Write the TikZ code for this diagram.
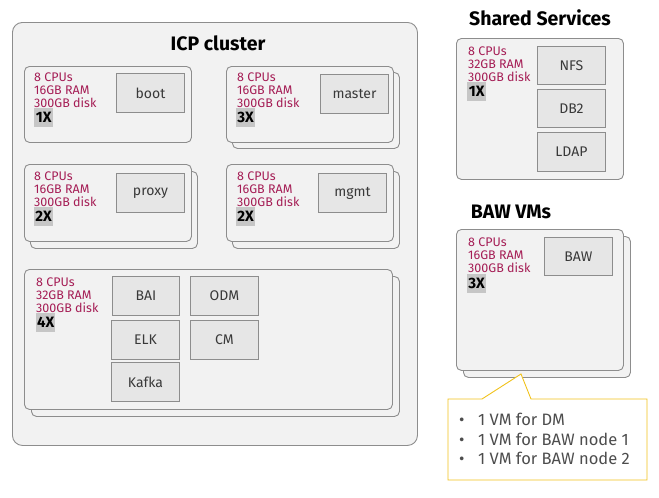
\documentclass[tikz,border=0pt]{standalone}
\usepackage{fontspec}
\setmainfont{Fira Sans}
\usetikzlibrary{calc}
\definecolor{bgfill}{HTML}{F2F2F2}
\definecolor{boxline}{HTML}{8D8D8D}
\definecolor{svcfill}{HTML}{E6E6E6}
\definecolor{spectext}{HTML}{A51D55}
\definecolor{badgefill}{HTML}{C6C6C6}
\definecolor{calloutline}{HTML}{F1C21B}
\definecolor{svctext}{HTML}{393939}
\definecolor{notetext}{HTML}{4D4D4D}
\begin{document}
\begin{tikzpicture}[x=1pt,y=-1pt,
  cluster/.style={draw=boxline, fill=bgfill, rounded corners=10pt, line width=0.9pt, anchor=north west, inner sep=0},
  vmbox/.style={draw=boxline, fill=bgfill, rounded corners=5pt, line width=0.9pt, anchor=north west, inner sep=0},
  svc/.style={draw=boxline, fill=svcfill, line width=0.9pt, anchor=north west, inner sep=0, minimum width=68pt, minimum height=39pt, font=\fontsize{14}{16}\selectfont, text=svctext},
  spec/.style={anchor=north west, inner sep=0, align=left, text=spectext, font=\fontsize{12.5}{12.8}\selectfont},
  badge/.style={anchor=north west, fill=badgefill, inner sep=0, minimum width=19pt, minimum height=19pt, font=\bfseries\fontsize{15}{16}\selectfont},
  title/.style={font=\bfseries\fontsize{19.5}{22}\selectfont},
  notebox/.style={draw=calloutline, fill=white, line width=0.9pt, line join=miter},
  note/.style={anchor=north west, inner sep=0, align=left, text=notetext, font=\fontsize{16.5}{19.5}\selectfont}
]
\useasboundingbox (0,0) rectangle (659,498);

% ICP cluster
\node[cluster, minimum width=405pt, minimum height=423pt] (icp) at (12,22) {};
\node[title] (icptitle) at (218,43) {ICP cluster};

% boot
\node[vmbox, minimum width=167pt, minimum height=76pt] (bootvm) at (24,66) {};
\node[svc] (boot) at (116,73) {boot};
\node[spec] (bootspec) at (34,72.5) {8 CPUs\\16GB RAM\\300GB disk};
\node[badge] (bootn) at (34,108) {1X};

% master
\node[vmbox, minimum width=167pt, minimum height=76pt] (mastervmb) at (232,72) {};
\node[vmbox, minimum width=167pt, minimum height=76pt] (mastervm) at (226,66) {};
\node[svc] (master) at (320,74) {master};
\node[spec] (masterspec) at (237,72.5) {8 CPUs\\16GB RAM\\300GB disk};
\node[badge] (mastern) at (236,108) {3X};

% proxy
\node[vmbox, minimum width=167pt, minimum height=77pt] (proxyvmb) at (30,171) {};
\node[vmbox, minimum width=167pt, minimum height=77pt] (proxyvm) at (24,164) {};
\node[svc] (proxy) at (116,173) {proxy};
\node[spec] (proxyspec) at (34,171.5) {8 CPUs\\16GB RAM\\300GB disk};
\node[badge] (proxyn) at (34,207) {2X};

% mgmt
\node[vmbox, minimum width=167pt, minimum height=77pt] (mgmtvmb) at (232,171) {};
\node[vmbox, minimum width=167pt, minimum height=77pt] (mgmtvm) at (226,164) {};
\node[svc] (mgmt) at (318,173) {mgmt};
\node[spec] (mgmtspec) at (237,171.5) {8 CPUs\\16GB RAM\\300GB disk};
\node[badge] (mgmtn) at (236,207) {2X};

% worker
\node[vmbox, minimum width=368pt, minimum height=140pt] (workvmb) at (31,276) {};
\node[vmbox, minimum width=368pt, minimum height=140pt] (workvm) at (24,269) {};
\node[spec] (workspec) at (36,278) {8 CPUs\\32GB RAM\\300GB disk};
\node[badge] (workn) at (36,313) {4X};
\node[svc, minimum width=67pt] (bai) at (112,276) {BAI};
\node[svc] (odm) at (190,276) {ODM};
\node[svc] (elk) at (111,320) {ELK};
\node[svc] (cm) at (190,320) {CM};
\node[svc] (kafka) at (111,362) {Kafka};

% Shared services
\node[title] (sstitle) at (540,18) {Shared Services};
\node[vmbox, minimum width=167pt, minimum height=141pt] (ssvm) at (456,38) {};
\node[spec] (ssspec) at (468,47) {8 CPUs\\32GB RAM\\300GB disk};
\node[badge] (ssn) at (467,82) {1X};
\node[svc, minimum height=38pt] (nfs) at (537,46) {NFS};
\node[svc, minimum height=38pt] (db2) at (537,89) {DB2};
\node[svc] (ldap) at (537,132) {LDAP};

% BAW VMs
\node[title] (bawtitle) at (511,212) {BAW VMs};
\node[vmbox, minimum width=167pt, minimum height=141pt] (bawvmb) at (463,236) {};
\node[vmbox, minimum width=167pt, minimum height=141pt] (bawvm) at (456,229) {};
\node[spec] (bawspec) at (468,238) {8 CPUs\\16GB RAM\\300GB disk};
\node[badge] (bawn) at (467,274) {3X};
\node[svc, minimum height=38pt] (baw) at (544,237) {BAW};

% callout
\coordinate (cnw) at (448,399);
\coordinate (cse) at (647,480);
\coordinate (ca) at (482,399);
\coordinate (cb) at (531,399);
\coordinate (ctip) at (521,374);
\draw[notebox] (cnw) -- (ca) -- (ctip) -- (cb) -- (cse |- cnw) -- (cse) -- (cnw |- cse) -- cycle;
\node[note] (notetext) at (459,413) {\makebox[19pt][l]{\textbullet}1 VM for DM\\\makebox[19pt][l]{\textbullet}1 VM for BAW node 1\\\makebox[19pt][l]{\textbullet}1 VM for BAW node 2};
\end{tikzpicture}
\end{document}
